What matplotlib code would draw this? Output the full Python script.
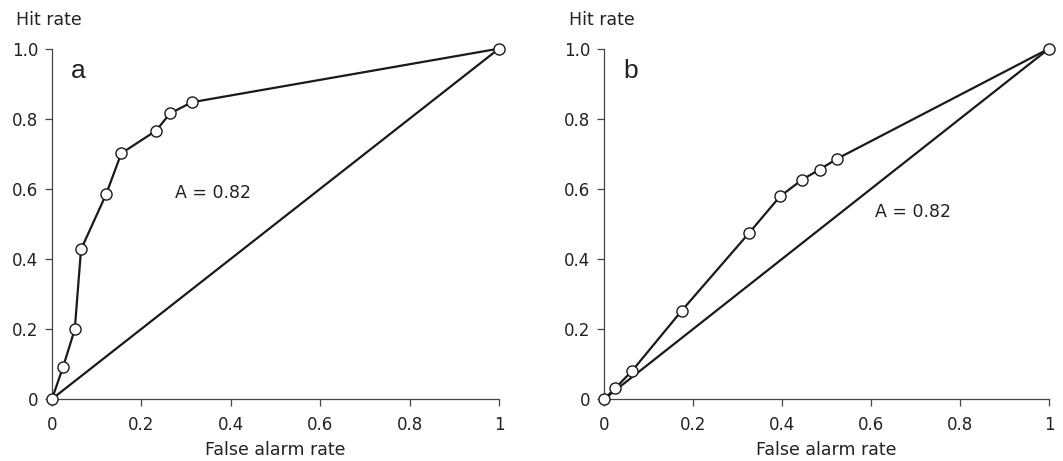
import matplotlib
matplotlib.use("Agg")
from matplotlib import pyplot as plt

plt.rcParams['font.family'] = ['DejaVu Sans']

# panel a: ROC points
fa_a = [0, 0.025, 0.051, 0.065, 0.121, 0.155, 0.233, 0.264, 0.313, 1.0]
hit_a = [0, 0.092, 0.199, 0.427, 0.584, 0.701, 0.766, 0.815, 0.847, 1.0]

# panel b: ROC points
fa_b = [0, 0.024, 0.063, 0.174, 0.325, 0.395, 0.445, 0.484, 0.524, 1.0]
hit_b = [0, 0.030, 0.081, 0.252, 0.473, 0.578, 0.626, 0.655, 0.686, 1.0]

area_text = "A = 0.82"
x_ticks = [0, 0.2, 0.4, 0.6, 0.8, 1.0]
x_ticklabels = ['0', '0.2', '0.4', '0.6', '0.8', '1']
y_ticks = [0, 0.2, 0.4, 0.6, 0.8, 1.0]
y_ticklabels = ['0', '0.2', '0.4', '0.6', '0.8', '1.0']

fig = plt.figure(figsize=(10.63, 4.61), dpi=100)
ax_a = fig.add_axes([0.0489, 0.1345, 0.4205, 0.760])
ax_b = fig.add_axes([0.5685, 0.1345, 0.4183, 0.760])

panels = [
    (ax_a, fa_a, hit_a, 'a', (0.276, 0.589)),
    (ax_b, fa_b, hit_b, 'b', (0.609, 0.535)),
]

for ax, fa, hit, label, text_pos in panels:
    # chance diagonal
    ax.plot([0, 1], [0, 1], color='#1a1a1a', lw=1.6, clip_on=False, zorder=2)
    ax.plot(fa, hit, color='#1a1a1a', lw=1.6, marker='o', markersize=8,
            markerfacecolor='white', markeredgecolor='#1a1a1a',
            markeredgewidth=1.0, clip_on=False, zorder=3)

    ax.set_xlim(0, 1)
    ax.set_ylim(0, 1)
    ax.spines['top'].set_visible(False)
    ax.spines['right'].set_visible(False)
    for side in ['left', 'bottom']:
        ax.spines[side].set_color('#444444')
        ax.spines[side].set_linewidth(0.9)

    ax.set_xticks(x_ticks)
    ax.set_xticklabels(x_ticklabels)
    ax.set_yticks(y_ticks)
    ax.set_yticklabels(y_ticklabels)
    ax.tick_params(axis='both', labelsize=12, color='#444444', length=5,
                   width=0.9, labelcolor='#222222')
    ax.tick_params(axis='x', pad=7)
    ax.tick_params(axis='y', pad=5)

    ax.set_xlabel('False alarm rate', fontsize=12.5, color='#222222', labelpad=5.5)
    ax.text(-0.08, 1.055, 'Hit rate', transform=ax.transAxes, fontsize=12.5,
            color='#222222', ha='left', va='bottom')
    ax.text(0.042, 0.935, label, fontsize=19, color='#222222',
            ha='left', va='center', family='Liberation Sans')
    ax.text(text_pos[0], text_pos[1], area_text, fontsize=12.5,
            color='#222222', ha='left', va='center')

plt.savefig("out.png", dpi=100)
